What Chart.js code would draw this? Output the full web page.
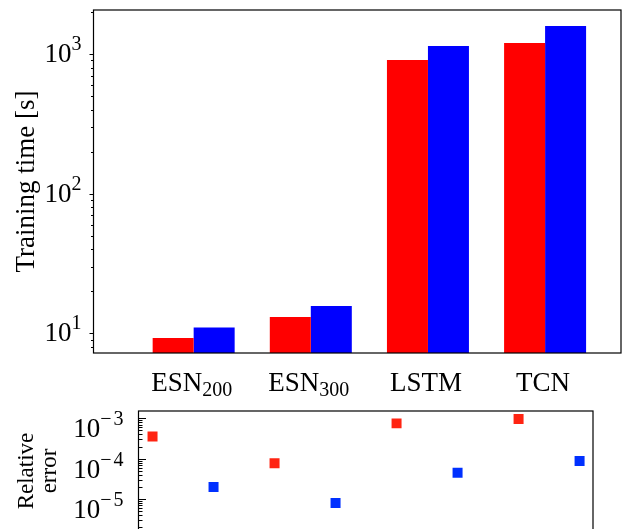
<!DOCTYPE html>
<html><head><meta charset="utf-8">
<script src="https://cdn.jsdelivr.net/npm/chart.js@4"></script>
<style>
html,body{margin:0;padding:0;width:622px;height:529px;overflow:hidden;background:#fff;}
#c1{position:absolute;left:0;top:0;}
#c2{position:absolute;left:0;top:400px;}
</style></head><body>
<canvas id="c1" width="622" height="400"></canvas>
<canvas id="c2" width="622" height="145"></canvas>
<script>
// ---- data ----
const categories = ['ESN_200', 'ESN_300', 'LSTM', 'TCN'];
const timeRed  = [9.25, 13.1, 906, 1199];
const timeBlue = [11.0, 15.7, 1141, 1586];
const timeTicks = [10, 100, 1000];
const errRed  = [3.54e-4, 7.7e-5, 7.5e-4, 9.6e-4];
const errBlue = [1.98e-5, 8.0e-6, 4.5e-5, 8.7e-5];
const errTicks = [1e-3, 1e-4, 1e-5];

const SERIF = '"Liberation Serif", "Times New Roman", serif';

function drawFrame(chart) {
  const {ctx, chartArea: a} = chart;
  ctx.save();
  ctx.strokeStyle = '#000';
  ctx.lineWidth = 1.2;
  ctx.strokeRect(a.left, a.top, a.right - a.left, a.bottom - a.top);
  ctx.restore();
}

function drawLogTicks(chart, dir, majLen, minLen) {
  const s = chart.scales.y, a = chart.chartArea, ctx = chart.ctx;
  const lo = Math.floor(Math.log10(s.min)), hi = Math.ceil(Math.log10(s.max));
  ctx.save();
  ctx.strokeStyle = '#000';
  ctx.lineWidth = 1;
  for (let e = lo; e <= hi; e++) {
    for (let k = 1; k <= 9; k++) {
      const v = k * Math.pow(10, e);
      if (v < s.min || v > s.max) continue;
      const y = Math.round(s.getPixelForValue(v)) + 0.5;
      const len = k === 1 ? majLen : minLen;
      ctx.beginPath();
      ctx.moveTo(a.left, y);
      ctx.lineTo(a.left + dir * len, y);
      ctx.stroke();
    }
  }
  ctx.restore();
}

function drawPowLabels(chart, ticks, gap, dy) {
  const s = chart.scales.y, a = chart.chartArea, ctx = chart.ctx;
  const mainFont = '27px ' + SERIF, supFont = '20px ' + SERIF;
  ctx.save();
  ctx.fillStyle = '#000';
  ctx.textBaseline = 'alphabetic';
  ctx.textAlign = 'left';
  ticks.forEach(v => {
    const e = Math.round(Math.log10(v));
    const base = s.getPixelForValue(v) + dy;
    const parts = e < 0 ? ['\u2212', String(-e)] : [String(e)];
    ctx.font = supFont;
    let supW = 0;
    parts.forEach((p, i) => { supW += ctx.measureText(p).width + (i < parts.length - 1 ? 2 : 0); });
    ctx.font = mainFont;
    const mW = ctx.measureText('10').width;
    let x = a.left - gap - supW - mW;
    ctx.fillText('10', x, base);
    x += mW;
    ctx.font = supFont;
    parts.forEach((p, i) => {
      ctx.fillText(p, x, base - 12);
      x += ctx.measureText(p).width + (i < parts.length - 1 ? 2 : 0);
    });
  });
  ctx.restore();
}

function drawCatLabels(chart) {
  const s = chart.scales.x, a = chart.chartArea, ctx = chart.ctx;
  ctx.save();
  ctx.fillStyle = '#000';
  ctx.textBaseline = 'alphabetic';
  ctx.textAlign = 'left';
  categories.forEach((c, i) => {
    const [m, sub] = c.split('_');
    ctx.font = '27px ' + SERIF;
    const mw = ctx.measureText(m).width;
    ctx.font = '20px ' + SERIF;
    const sw = sub ? ctx.measureText(sub).width : 0;
    const cx = s.getPixelForValue(i) - 2;
    const x = cx - (mw + sw) / 2;
    const base = a.bottom + 38;
    ctx.font = '27px ' + SERIF;
    ctx.fillText(m, x, base);
    if (sub) { ctx.font = '20px ' + SERIF; ctx.fillText(sub, x + mw, base + 5); }
  });
  ctx.restore();
}

// ---- top chart: training time ----
new Chart(document.getElementById('c1'), {
  type: 'bar',
  data: {
    datasets: [
      { data: timeRed.map((v, i) => ({x: i, y: v})), backgroundColor: '#ff0000', borderWidth: 0 },
      { data: timeBlue.map((v, i) => ({x: i, y: v})), backgroundColor: '#0000ff', borderWidth: 0 }
    ]
  },
  options: {
    responsive: false, animation: false, events: [],
    layout: { padding: { left: 0, top: 10, right: 1, bottom: 47 } },
    datasets: { bar: { categoryPercentage: 0.7, barPercentage: 1.0, grouped: true } },
    plugins: { legend: { display: false }, tooltip: { enabled: false } },
    scales: {
      x: {
        type: 'linear', bounds: 'data', offset: false, min: -0.855, max: 3.648, display: false,
        afterBuildTicks: s => { s.ticks = categories.map((c, i) => ({value: i})); }
      },
      y: {
        type: 'logarithmic', bounds: 'data', min: 7.23, max: 2065,
        grid: { display: false }, border: { display: false }, ticks: { display: false },
        afterFit: s => { s.width = 93.5; },
        title: { display: true, text: 'Training time [s]', color: '#000',
                 font: { family: SERIF, size: 27 }, padding: { top: 11, bottom: 0 } }
      }
    }
  },
  plugins: [{
    id: 'decoTop',
    afterDraw(chart) {
      drawLogTicks(chart, -1, 4, 2.5);
      drawFrame(chart);
      drawPowLabels(chart, timeTicks, 12, 8);
      drawCatLabels(chart);
    }
  }]
});

// ---- bottom chart: relative error ----
new Chart(document.getElementById('c2'), {
  type: 'scatter',
  data: {
    datasets: [
      { data: errRed.map((v, i) => ({x: 2 * i, y: v})), pointStyle: 'rect', pointRadius: 7.07,
        pointBackgroundColor: '#ff2412', pointBorderColor: '#ff2412', pointBorderWidth: 0, showLine: false },
      { data: errBlue.map((v, i) => ({x: 2 * i + 1, y: v})), pointStyle: 'rect', pointRadius: 7.07,
        pointBackgroundColor: '#0030ff', pointBorderColor: '#0030ff', pointBorderWidth: 0, showLine: false }
    ]
  },
  options: {
    responsive: false, animation: false, events: [],
    layout: { padding: { left: 0, top: 11, right: 29, bottom: 14 } },
    plugins: { legend: { display: false }, tooltip: { enabled: false } },
    scales: {
      x: { type: 'linear', bounds: 'data', min: -0.23, max: 7.22, display: false },
      y: {
        type: 'logarithmic', bounds: 'data', min: 1.61e-6, max: 1.52e-3,
        grid: { display: false }, border: { display: false }, ticks: { display: false },
        afterFit: s => { s.width = 138.5; },
        title: { display: true, text: ['Relative', 'error'], color: '#000',
                 font: { family: SERIF, size: 23, lineHeight: 1 }, padding: { top: 15.5, bottom: 0 } }
      }
    }
  },
  plugins: [{
    id: 'decoBottom',
    afterDraw(chart) {
      drawLogTicks(chart, 1, 7.5, 4);
      drawFrame(chart);
      drawPowLabels(chart, errTicks, 15, 19);
    }
  }]
});
</script>
</body></html>
